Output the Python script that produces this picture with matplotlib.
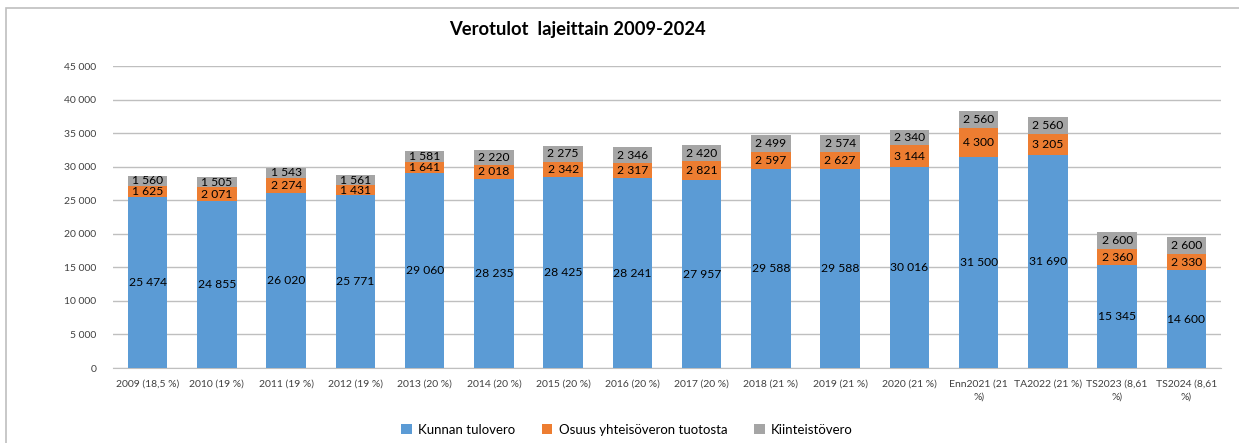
import matplotlib
matplotlib.use("Agg")
import matplotlib.pyplot as plt
from matplotlib.patches import Rectangle
import numpy as np

plt.rcParams['font.family'] = ['Lato', 'DejaVu Sans']

categories = ['2009 (18,5 %)', '2010 (19 %)', '2011 (19 %)', '2012 (19 %)',
              '2013 (20 %)', '2014 (20 %)', '2015 (20 %)', '2016 (20 %)',
              '2017 (20 %)', '2018 (21 %)', '2019 (21 %)', '2020 (21 %)',
              'Enn2021 (21\n%)', 'TA2022 (21 %)', 'TS2023 (8,61\n%)', 'TS2024 (8,61\n%)']
tulovero = [25474, 24855, 26020, 25771, 29060, 28235, 28425, 28241,
            27957, 29588, 29588, 30016, 31500, 31690, 15345, 14600]
yhteisovero = [1625, 2071, 2274, 1431, 1641, 2018, 2342, 2317,
               2821, 2597, 2627, 3144, 4300, 3205, 2360, 2330]
kiinteistovero = [1560, 1505, 1543, 1561, 1581, 2220, 2275, 2346,
                  2420, 2499, 2574, 2340, 2560, 2560, 2600, 2600]

series = [('Kunnan tulovero', tulovero, '#5B9BD5'),
          ('Osuus yhteisöveron tuotosta', yhteisovero, '#ED7D31'),
          ('Kiinteistövero', kiinteistovero, '#A5A5A5')]


def fmt(v):
    return f'{v:,.0f}'.replace(',', ' ')


fig = plt.figure(figsize=(12.39, 4.43), dpi=100)
ax = fig.add_axes([0.0912, 0.1693, 0.8943, 0.6817])

# chart frame
fig.patches.append(Rectangle((6 / 1239, -0.1), 1.2, 1 - 8 / 443 + 0.1,
                             transform=fig.transFigure, fill=False,
                             edgecolor='#BFBFBF', linewidth=1.2))

x = np.arange(len(categories))
bottom = np.zeros(len(categories))
for name, vals, col in series:
    vals = np.array(vals)
    ax.bar(x, vals, 0.57, bottom=bottom, color=col, label=name, zorder=3)
    for xi, b, v in zip(x, bottom, vals):
        ax.text(xi, b + v / 2, fmt(v), ha='center', va='center',
                fontsize=8.7, color='black', zorder=4)
    bottom += vals

ax.set_ylim(0, 45000)
ax.set_xlim(-0.5, len(categories) - 0.5)
ax.set_yticks(range(0, 45001, 5000))
ax.set_yticklabels([fmt(v) for v in range(0, 45001, 5000)])
ax.set_xticks(x)
ax.set_xticklabels(categories, linespacing=1.6)
ax.tick_params(axis='both', length=0, labelsize=7.5, colors='#404040')
ax.tick_params(axis='y', pad=12)
ax.tick_params(axis='x', pad=8)
ax.grid(axis='y', color='#BFBFBF', linewidth=1, zorder=0)
for s in ['top', 'right', 'left']:
    ax.spines[s].set_visible(False)
ax.spines['bottom'].set_color('#BFBFBF')

fig.text(577 / 1239, 1 - 30 / 443, 'Verotulot  lajeittain 2009-2024',
         ha='center', va='center', fontsize=13.2, fontweight='bold')

fig.legend(loc='center', bbox_to_anchor=(627 / 1239, 1 - 430 / 443), ncol=3,
           frameon=False, fontsize=9.5, handlelength=0.8, handleheight=0.8,
           columnspacing=2.0, handletextpad=0.5)

fig.savefig('out.png', dpi=100)
